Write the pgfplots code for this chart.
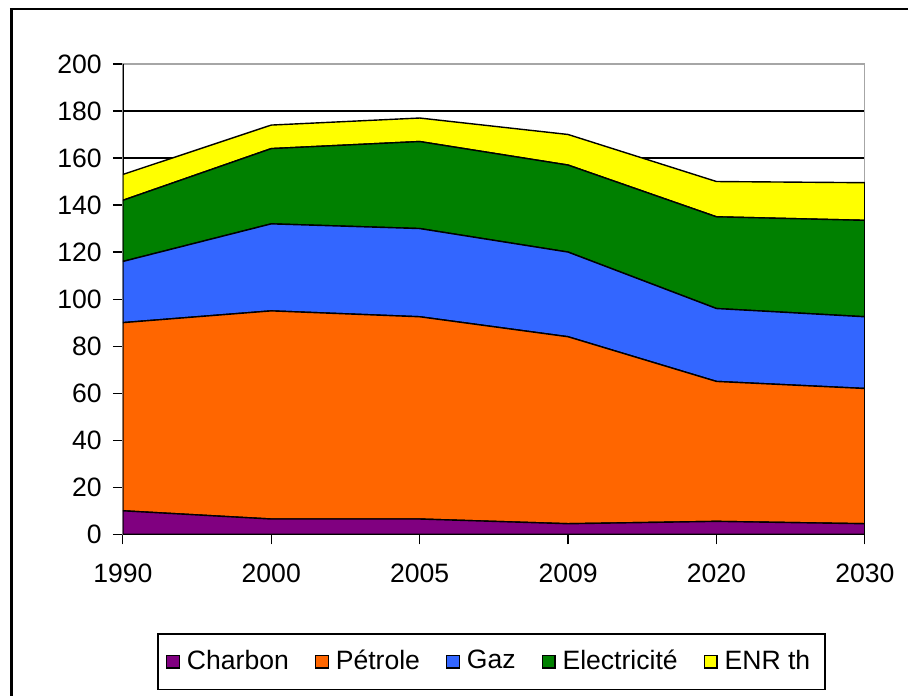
\documentclass[border=0pt]{standalone}
\usepackage{pgfplots}
\pgfplotsset{compat=1.18}
\usepackage{fontspec}
\setmainfont{Liberation Sans}
\definecolor{charbon}{HTML}{800080}
\definecolor{petrole}{HTML}{FF6600}
\definecolor{gaz}{HTML}{3366FF}
\definecolor{elec}{HTML}{008000}
\definecolor{enr}{HTML}{FFFF00}
\begin{document}
\fontsize{13.3}{16}\selectfont
\begin{tikzpicture}
\fill[white] (0,0) rectangle (454.5pt,348.5pt);
\draw[line width=1.2pt] (5pt,344pt) -- (454.5pt,344pt);
\draw[line width=1.5pt] (6pt,344pt) -- (6pt,0pt);
\begin{axis}[
  at={(61.5pt,81pt)}, anchor=south west,
  scale only axis, width=371.5pt, height=235.5pt,
  xmin=0, xmax=5, ymin=0, ymax=200,
  ytick={0,20,...,200},
  xtick={0,1,2,3,4,5},
  xticklabels={1990,2000,2005,2009,2020,2030},
  stack plots=y, area style, axis on top=false,
  ymajorgrids, grid style={black, line width=0.6pt},
  axis line style={gray!70, line width=0.6pt},
  tick align=outside, xtick pos=left, ytick pos=left,
  major tick length=5pt,
  tick style={black, line width=0.6pt},
  /pgf/number format/assume math mode=true,
  yticklabel style={xshift=-1pt},
  xticklabel style={yshift=-5pt},
  every axis plot/.append style={draw=black, line width=0.7pt},
  legend image code/.code={\draw[#1, draw=black, line width=0.6pt] (0pt,-3.2pt) rectangle (6.4pt,3.2pt);},
  legend columns=5,
  legend style={at={(0.497,-0.2707)}, anchor=center, draw=black, line width=0.8pt,
    inner xsep=4pt, inner ysep=6pt,
    /tikz/every even column/.append style={column sep=9.5pt},
    /tikz/every odd column/.append style={column sep=0pt},
    nodes={inner xsep=3.5pt}},
]
\addplot[fill=charbon] coordinates {(0,10) (1,6.5) (2,6.5) (3,4.5) (4,5.5) (5,4.5)} \closedcycle;
\addlegendentry{Charbon}
\addplot[fill=petrole] coordinates {(0,80) (1,88.5) (2,86) (3,79.5) (4,59.5) (5,57.5)} \closedcycle;
\addlegendentry{Pétrole}
\addplot[fill=gaz] coordinates {(0,26) (1,37) (2,37.5) (3,36) (4,31) (5,30.5)} \closedcycle;
\addlegendentry{Gaz}
\addplot[fill=elec] coordinates {(0,26) (1,32) (2,37) (3,37) (4,39) (5,41)} \closedcycle;
\addlegendentry{Electricité}
\addplot[fill=enr] coordinates {(0,11) (1,10) (2,10) (3,13) (4,15) (5,16)} \closedcycle;
\addlegendentry{ENR th}
\draw[black, line width=0.8pt] (rel axis cs:0,1) -- (rel axis cs:0,0) -- (rel axis cs:1,0);
\end{axis}
\end{tikzpicture}
\end{document}
